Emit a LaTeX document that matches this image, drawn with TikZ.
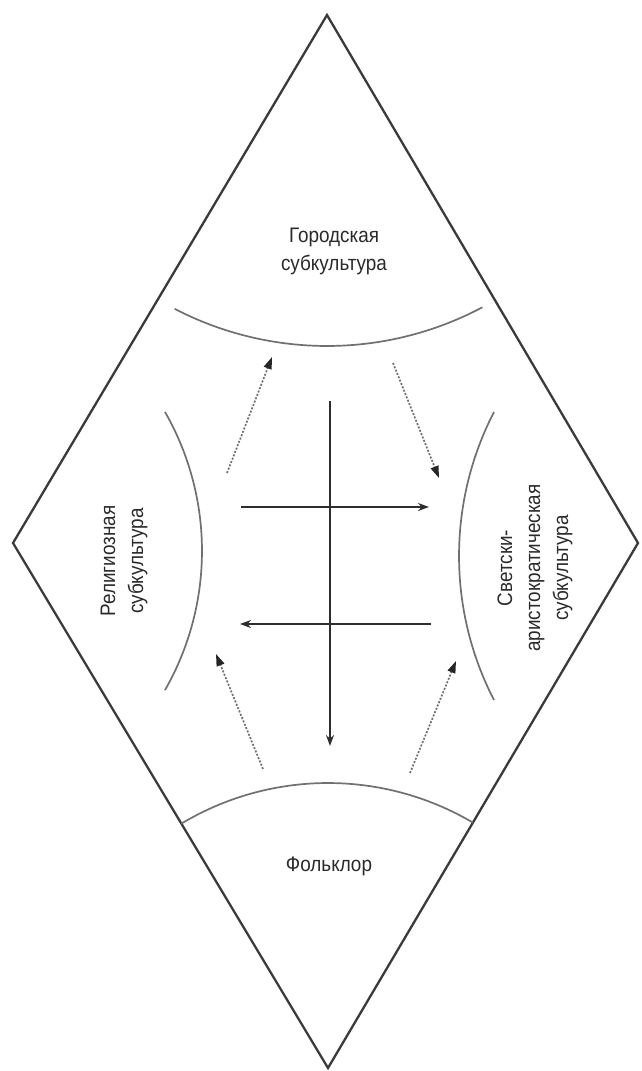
\documentclass[tikz,border=0pt]{standalone}
\usepackage{fontspec}
\setmainfont{Liberation Sans}[FakeStretch=0.9]
\usetikzlibrary{arrows.meta}
\definecolor{edgecol}{HTML}{3A3A3A}
\definecolor{arccol}{HTML}{707070}
\definecolor{txtcol}{HTML}{2A2A2A}
\tikzset{
  frame/.style={draw=edgecol, line width=2.3pt, line join=miter},
  bound/.style={draw=arccol, line width=1.7pt},
  mainarrow/.style={draw=edgecol!80!black, line width=2.5pt, -{Stealth[length=11pt,width=8pt]}},
  flow/.style={draw=arccol, line width=1.7pt, dash pattern=on 2pt off 1.6pt, -{Triangle[length=12pt,width=8pt,color=black!85]}},
  label/.style={text=txtcol, font=\fontsize{21}{28}\selectfont, align=center, inner sep=0pt}
}
\begin{document}
\begin{tikzpicture}[x=1pt,y=-1pt]
\useasboundingbox (0,0) rectangle (642,1071);
% diamond vertices
\coordinate (top) at (327,15);
\coordinate (right) at (638,543);
\coordinate (bottom) at (328,1068);
\coordinate (left) at (13,543);
\draw[frame] (top) -- (right) -- (bottom) -- (left) -- cycle;
% arc centres
\coordinate (lc) at (-78,551);
\coordinate (rc) at (773,556);
% boundary arcs
\draw[bound] ([shift={(117.4:331)}]top) arc[start angle=117.4, end angle=62, radius=331];
\draw[bound] ([shift={(-120.96:285)}]bottom) arc[start angle=-120.96, end angle=-59.44, radius=285];
\draw[bound] ([shift={(-29.8:280)}]lc) arc[start angle=-29.8, end angle=29.8, radius=280];
\draw[bound] ([shift={(152.7:314)}]rc) arc[start angle=152.7, end angle=207.3, radius=314];
% labels
\node[label] (city) at (334,251) {Городская\\субкультура};
\node[label] (folk) at (329,866) {Фольклор};
\node[label, rotate=90] (relig) at (124,561) {Религиозная\\субкультура};
\node[label, rotate=90] (secular) at (535,568) {Светски-\\аристократическая\\субкультура};
% main cross arrows
\coordinate (vtop) at (330,401);
\coordinate (vbot) at (330,746);
\coordinate (h1l) at (241,507);
\coordinate (h1r) at (429,507);
\coordinate (h2r) at (431,624);
\coordinate (h2l) at (240,624);
\draw[mainarrow] (vtop) -- (vbot);
\draw[mainarrow] (h1l) -- (h1r);
\draw[mainarrow] (h2r) -- (h2l);
% diagonal flow arrows
\coordinate (ulT) at (227,473);
\coordinate (ulH) at (272,357);
\coordinate (urT) at (393,363);
\coordinate (urH) at (439,478);
\coordinate (llT) at (263,769);
\coordinate (llH) at (216,654);
\coordinate (lrT) at (410,773);
\coordinate (lrH) at (456,661);
\draw[flow] (ulT) -- (ulH);
\draw[flow] (urT) -- (urH);
\draw[flow] (llT) -- (llH);
\draw[flow] (lrT) -- (lrH);
\end{tikzpicture}
\end{document}
